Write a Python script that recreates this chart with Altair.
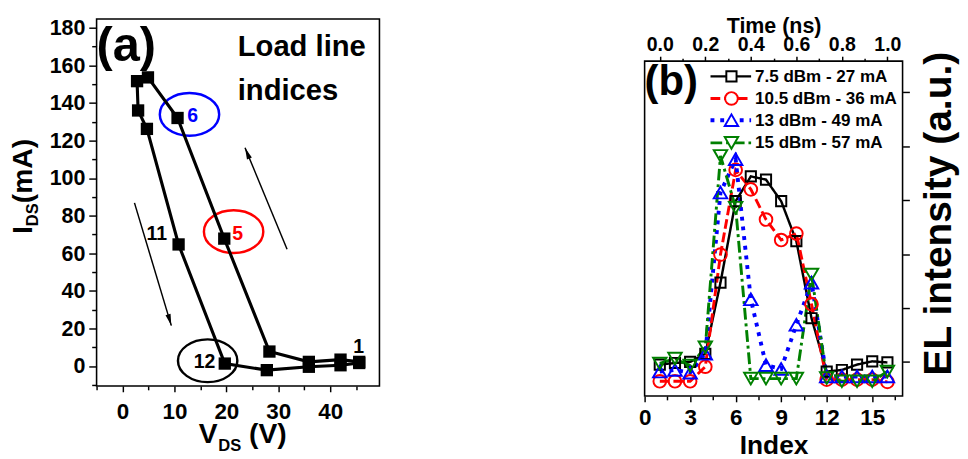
import altair as alt
import pandas as pd

FONT = "Liberation Sans"
BLACK, RED, BLUE, GREEN = "#000000", "#ff0000", "#0000ff", "#008000"

# ---------------- Panel (a): load line ----------------
load_index = list(range(1, 17))
v_ds = [45.6, 42.0, 35.9, 28.3, 19.6, 10.6, 4.9, 2.8, 3.0, 4.7, 10.8, 19.7, 27.8, 35.9, 42.0, 45.6]
i_ds = [2.2, 3.4, 2.2, 7.7, 67.8, 132.0, 153.6, 151.6, 136.0, 126.2, 64.7, 1.3, -2.2, -0.4, 0.4, 1.6]

ring_v = [12.9, 21.4, 16.4]
ring_i = [133.9, 71.5, 2.8]
ring_colors = [BLUE, RED, BLACK]

note_text = ["6", "5", "11", "12", "1"]
note_v = [13.5, 22.2, 6.6, 15.8, 45.5]
note_i = [133.0, 70.4, 70.4, 2.2, 10.1]
note_colors = [BLUE, RED, BLACK, BLACK, BLACK]

arrow_v0 = [31.7, 2.3]
arrow_i0 = [62.1, 86.8]
arrow_v1 = [23.6, 9.4]
arrow_i1 = [116.2, 21.5]
arrow_angle = [337.9, 163.6]

v_ticks = list(range(-5, 50, 5))
i_ticks = list(range(-10, 190, 10))

a_texts = ["(a)", "Load line", "indices"]
a_xtitle = ["V", "DS", "(V)"]
a_ytitle = ["I", "DS", "(mA)"]

# ---------------- Panel (b): EL intensity ----------------
el_index = list(range(1, 17))
series_names = ["7.5 dBm - 27 mA", "10.5 dBm - 36 mA", "13 dBm - 49 mA", "15 dBm - 57 mA"]
el_75 = [-0.05, -0.02, 0.0, 0.15, 1.47, 2.98, 3.44, 3.38, 2.98, 2.24, 0.81, -0.18, -0.15, -0.05, 0.01, -0.01]
el_105 = [-0.36, -0.36, -0.36, -0.09, 1.99, 3.56, 3.2, 2.64, 2.26, 2.38, 1.07, -0.33, -0.33, -0.33, -0.33, -0.37]
el_13 = [-0.18, -0.15, -0.2, 0.15, 3.14, 3.76, 1.16, -0.06, -0.13, 0.69, 1.47, -0.27, -0.27, -0.27, -0.27, -0.27]
el_15 = [-0.03, 0.06, -0.07, 0.27, 3.82, 2.86, -0.31, -0.31, -0.31, -0.31, 1.62, -0.3, -0.36, -0.36, -0.36, -0.18]
el_series = [el_75, el_105, el_13, el_15]

index_ticks = [0, 1.5, 3, 4.5, 6, 7.5, 9, 10.5, 12, 13.5, 15, 16.5]
time_ticks = [0.0, 0.1, 0.2, 0.3, 0.4, 0.5, 0.6, 0.7, 0.8, 0.9, 1.0]
el_ticks = [0, 1, 2, 3, 4, 5]
b_texts = ["(b)", "EL intensity (a.u.)"]

# ---------------- styles ----------------
A_W, A_H = 290.6, 377
B_W, B_H = 265, 387.3     # view of (b) reaches up to the top of (a); frame starts B_TOP lower
B_TOP = 43.3
ELLIPSE = ("M1,0 C1,0.3977 0.5523,0.72 0,0.72 C-0.5523,0.72 -1,0.3977 -1,0 "
           "C-1,-0.3977 -0.5523,-0.72 0,-0.72 C0.5523,-0.72 1,-0.3977 1,0 Z")
HEAD = "M0,0 L0.45,2 L-0.45,2 Z"
series_style = [
    dict(color=BLACK, dash=[1, 0], shape="square", size=110, width=2.5),
    dict(color=RED, dash=[10, 4], shape="circle", size=170, width=3),
    dict(color=BLUE, dash=[4, 6], shape="triangle-up", size=190, width=4),
    dict(color=GREEN, dash=[12, 4, 3, 4], shape="triangle-down", size=190, width=3),
]


def pix_text(txt, x, y, size, angle=0, color=BLACK, align="left", baseline="alphabetic"):
    return alt.Chart(pd.DataFrame({"t": [txt]})).mark_text(
        font=FONT, fontWeight="bold", fontSize=size, color=color, align=align,
        baseline=baseline, angle=angle
    ).encode(text="t:N", x=alt.value(x), y=alt.value(y))


def pin(x, y):
    return alt.Chart(pd.DataFrame({"t": [0]})).mark_rule(strokeOpacity=0, strokeWidth=0.01).encode(
        x=alt.value(x), x2=alt.value(x), y=alt.value(y), y2=alt.value(y + 0.5))


# ---------------- Panel (a) ----------------
x_a = alt.X("V:Q", scale=alt.Scale(domain=[-5, 49.5], nice=False, zero=False),
            axis=alt.Axis(values=v_ticks, title=None, orient="bottom",
                          labelExpr="datum.value % 10 === 0 ? datum.label : ''",
                          tickSize={"condition": {"test": "datum.value % 10 === 0", "value": 6}, "value": 4},
                          labelFontSize=23, labelPadding=9))
y_a = alt.Y("I:Q", scale=alt.Scale(domain=[-10.6, 184.7], nice=False, zero=False),
            axis=alt.Axis(values=i_ticks, title=None,
                          labelExpr="datum.value % 20 === 0 ? datum.label : ''",
                          tickSize={"condition": {"test": "datum.value % 20 === 0", "value": 8}, "value": 5},
                          labelFontSize=22, labelPadding=4))

df_a = pd.DataFrame({"idx": load_index, "V": v_ds, "I": i_ds})
layers_a = []
arrow_df = pd.DataFrame({"V": arrow_v0, "I": arrow_i0, "V2": arrow_v1, "I2": arrow_i1})
layers_a.append(alt.Chart(arrow_df).mark_rule(color=BLACK, strokeWidth=1.5).encode(
    x=x_a, y=y_a, x2="V2:Q", y2="I2:Q"))
head_df = pd.DataFrame({"V": arrow_v1, "I": arrow_i1, "ang": arrow_angle})
layers_a.append(alt.Chart(head_df).mark_point(shape=HEAD, size=144, filled=True, color=BLACK, opacity=1).encode(
    x=x_a, y=y_a, angle=alt.Angle("ang:Q", scale=None)))
for v, i, c in zip(ring_v, ring_i, ring_colors):
    layers_a.append(alt.Chart(pd.DataFrame({"V": [v], "I": [i]})).mark_point(
        shape=ELLIPSE, size=3721, filled=False, color=c, strokeWidth=2.5, opacity=1).encode(x=x_a, y=y_a))
layers_a.append(alt.Chart(df_a).mark_line(color=BLACK, strokeWidth=3.2).encode(x=x_a, y=y_a, order="idx:Q"))
layers_a.append(alt.Chart(df_a).mark_point(shape="square", filled=True, color=BLACK, size=160, opacity=1).encode(
    x=x_a, y=y_a))
for t, v, i, c in zip(note_text, note_v, note_i, note_colors):
    layers_a.append(alt.Chart(pd.DataFrame({"V": [v], "I": [i], "t": [t]})).mark_text(
        font=FONT, fontWeight="bold", fontSize=20, color=c, align="center", baseline="middle").encode(
        x=x_a, y=y_a, text="t:N"))
layers_a += [
    pix_text(a_texts[0], 0, 43.5, 50),
    pix_text(a_texts[1], 145, 38.3, 30),
    pix_text(a_texts[2], 145, 83.3, 30),
    pix_text(a_xtitle[0], 105, 436, 29),
    pix_text(a_xtitle[1], 125, 444, 17),
    pix_text(a_xtitle[2], 156.7, 436, 29),
    pix_text(a_ytitle[0], -66.7, 221, 29, angle=270),
    pix_text(a_ytitle[1], -59.7, 212.9, 17, angle=270),
    pix_text(a_ytitle[2], -66.7, 189.3, 29, angle=270),
    pin(-88.7, -3),
    pin(A_W + 1, 10),
]
panel_a = alt.layer(*layers_a).properties(width=A_W, height=A_H)

# ---------------- Panel (b) ----------------
x_b = alt.X("idx:Q", scale=alt.Scale(domain=[0, 17], nice=False, zero=False),
            axis=alt.Axis(values=index_ticks, title="Index", orient="bottom",
                          labelExpr="datum.value % 3 === 0 ? datum.label : ''",
                          tickSize={"condition": {"test": "datum.value % 3 === 0", "value": 6}, "value": 4},
                          labelFontSize=23, labelPadding=5, titleFontSize=27, titlePadding=4))
y_b = alt.Y("EL:Q", scale=alt.Scale(domain=[-0.632, 6.36], nice=False, zero=False),
            axis=alt.Axis(values=el_ticks, title=None, orient="right", labels=False, tickSize=7))

inner_b = []
inner_b.append(alt.Chart(pd.DataFrame({"t": [0]})).mark_rect(
    filled=False, stroke=BLACK, strokeWidth=1.6).encode(
    x=alt.value(0), x2=alt.value(B_W), y=alt.value(B_TOP), y2=alt.value(B_H)))
for vals, st in zip(el_series, series_style):
    d = pd.DataFrame({"idx": el_index, "EL": vals})
    inner_b.append(alt.Chart(d).mark_line(color=st["color"], strokeWidth=st["width"],
                                          strokeDash=st["dash"]).encode(x=x_b, y=y_b))
for vals, st in zip(el_series, series_style):
    d = pd.DataFrame({"idx": el_index, "EL": vals})
    inner_b.append(alt.Chart(d).mark_point(shape=st["shape"], size=st["size"], filled=False,
                                           color=st["color"], strokeWidth=2, opacity=1).encode(x=x_b, y=y_b))
row_y = [59.0, 81.7, 104.0, 127.3]
text_y = [65.0, 87.3, 109.7, 132.3]
for name, st, ry, ty in zip(series_names, series_style, row_y, text_y):
    leg = pd.DataFrame({"t": [name]})
    inner_b.append(alt.Chart(leg).mark_rule(color=st["color"], strokeWidth=st["width"],
                                            strokeDash=st["dash"]).encode(
        x=alt.value(67.7), x2=alt.value(109.4), y=alt.value(ry)))
    inner_b.append(alt.Chart(leg).mark_point(shape=st["shape"], size=st["size"], filled=False,
                                             fill="white", color=st["color"], strokeWidth=2,
                                             opacity=1).encode(x=alt.value(89.2), y=alt.value(ry)))
    inner_b.append(alt.Chart(leg).mark_text(font=FONT, fontWeight="bold", fontSize=17.5, color=BLACK,
                                            align="left", baseline="alphabetic").encode(
        text="t:N", x=alt.value(113.4), y=alt.value(ty)))
inner_b += [
    pix_text(b_texts[0], 0, 78.3, 43),
    pix_text(b_texts[1], B_W + 49.7, 200, 40, angle=270, align="center"),
    pin(-10, 200),
]
time_layer = alt.Chart(pd.DataFrame({"t": time_ticks})).mark_point(opacity=0).encode(
    x=alt.X("t:Q", scale=alt.Scale(domain=[-1 / 15, 16 / 15], nice=False, zero=False),
            axis=alt.Axis(values=time_ticks, orient="top", title="Time (ns)", format=".1f",
                          offset=-B_TOP,
                          labelExpr="round(datum.value * 10) % 2 === 0 ? datum.label : ''",
                          tickSize={"condition": {"test": "round(datum.value * 10) % 2 === 0", "value": 5},
                                    "value": 3},
                          labelFontSize=20, labelPadding=2, titleFontSize=22,
                          titleY=-29, titleBaseline="alphabetic")),
    y=alt.value(B_TOP))
panel_b = alt.layer(alt.layer(*inner_b), time_layer).resolve_scale(x="independent").properties(
    width=B_W, height=B_H, view=alt.ViewBackground(stroke="transparent"))

chart = alt.hconcat(panel_a, panel_b, spacing=259).properties(
    padding={"left": 0, "top": 0, "right": 0, "bottom": 0}
).configure_view(stroke=BLACK, strokeWidth=1.6).configure_axis(
    labelFont=FONT, labelFontWeight="bold", labelColor=BLACK, titleFont=FONT, titleFontWeight="bold",
    titleColor=BLACK, tickColor=BLACK, tickWidth=1.5, domain=False, grid=False,
    labelOverlap=False, labelFlush=False, labelBound=False)

chart.save("out.html", embed_options={"renderer": "svg", "actions": False})
